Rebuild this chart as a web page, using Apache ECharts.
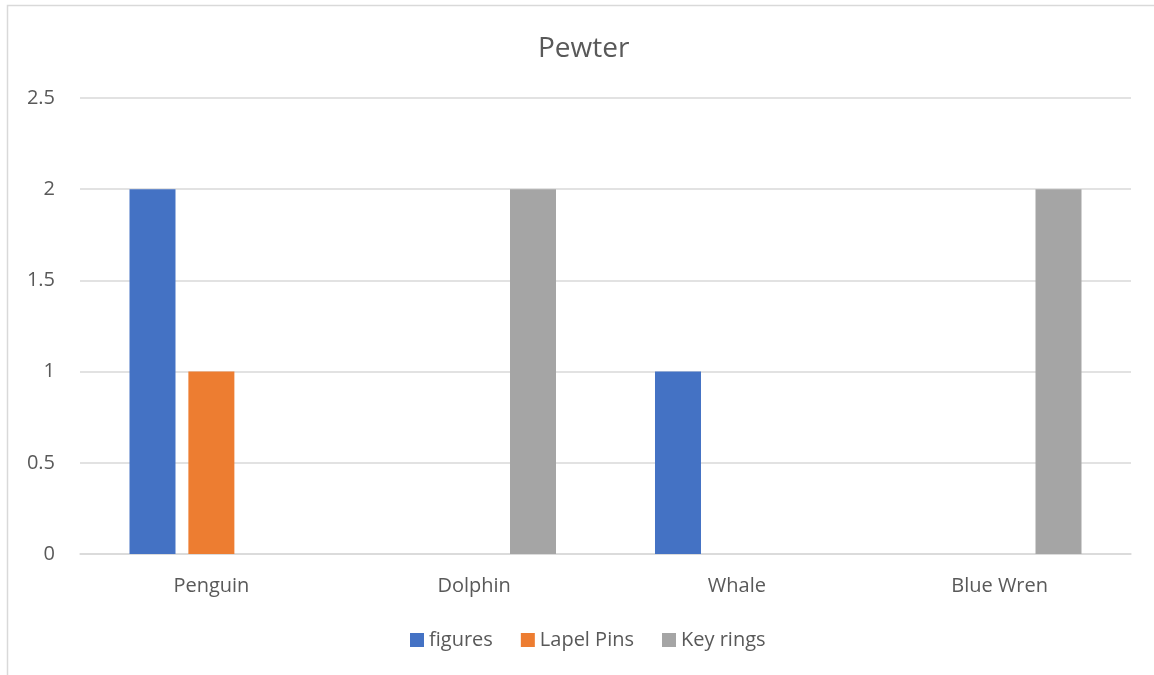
<!DOCTYPE html>
<html>
<head>
<meta charset="utf-8">
<script src="https://cdn.jsdelivr.net/npm/echarts@6/dist/echarts.min.js"></script>
<style>
  html, body { margin: 0; padding: 0; background: #fff; overflow: hidden; }
  #main { width: 1154px; height: 675px; }
</style>
</head>
<body>
<div id="main"></div>
<script>
// chart data
var categories = ['Penguin', 'Dolphin', 'Whale', 'Blue Wren'];
var figures = [2, 0, 1, 0];
var lapelPins = [1, 0, 0, 0];
var keyRings = [0, 2, 0, 2];
var seriesNames = ['figures', 'Lapel Pins', 'Key rings'];
var colors = ['#4472C4', '#ED7D31', '#A5A5A5'];

var myChart = echarts.init(document.getElementById('main'));
var fontFam = '"Open Sans", "Liberation Sans", sans-serif';

myChart.setOption({
  color: colors,
  animation: false,
  graphic: [{
    // outer chart border (runs off right and bottom edges)
    type: 'rect',
    shape: { x: 7.5, y: 5.5, width: 1200, height: 720 },
    style: { fill: 'none', stroke: '#d9d9d9', lineWidth: 1.5 },
    silent: true
  }],
  title: {
    text: 'Pewter',
    left: 533,
    top: 30,
    textStyle: { color: '#595959', fontSize: 28, fontWeight: 'normal', fontFamily: fontFam }
  },
  legend: {
    data: seriesNames,
    left: 405,
    top: 625,
    icon: 'rect',
    itemWidth: 14,
    itemHeight: 14,
    itemGap: 28,
    textStyle: { color: '#595959', fontSize: 20, fontFamily: fontFam }
  },
  grid: { left: 80, right: 23, top: 98, bottom: 121, containLabel: false },
  xAxis: {
    type: 'category',
    data: categories,
    axisTick: { show: false },
    axisLine: { lineStyle: { color: '#d9d9d9', width: 1.5 } },
    axisLabel: { color: '#595959', fontSize: 20, fontFamily: fontFam, margin: 22 }
  },
  yAxis: {
    type: 'value',
    min: 0,
    max: 2.5,
    interval: 0.5,
    axisLine: { show: false },
    axisTick: { show: false },
    splitLine: { lineStyle: { color: '#d9d9d9', width: 1.5 } },
    axisLabel: { color: '#595959', fontSize: 20, fontFamily: fontFam, margin: 25 }
  },
  series: [
    { name: seriesNames[0], type: 'bar', data: figures, barWidth: 46, barGap: '28%' },
    { name: seriesNames[1], type: 'bar', data: lapelPins, barWidth: 46, barGap: '28%' },
    { name: seriesNames[2], type: 'bar', data: keyRings, barWidth: 46, barGap: '28%' }
  ]
});
</script>
</body>
</html>
